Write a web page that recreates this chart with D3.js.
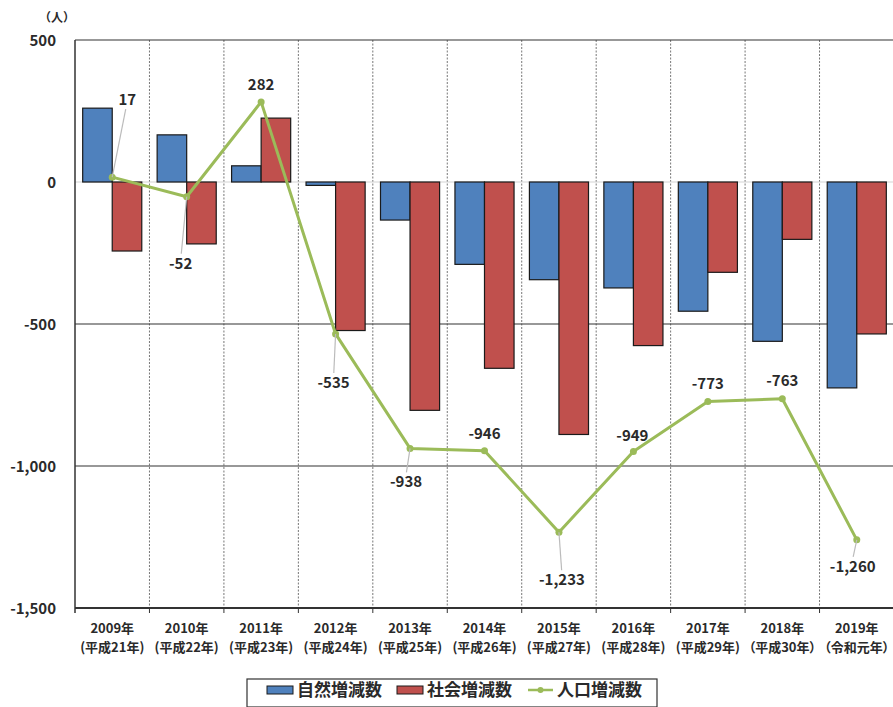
<!DOCTYPE html>
<html>
<head>
<meta charset="utf-8">
<script src="https://cdn.jsdelivr.net/npm/d3@7"></script>
<style>
  body { margin: 0; background: #fff; }
  text { font-family: "Noto Sans CJK JP", "Noto Sans", sans-serif; fill: #2a2a2a; }
</style>
</head>
<body>
<script>
var years = ["2009年", "2010年", "2011年", "2012年", "2013年", "2014年", "2015年", "2016年", "2017年", "2018年", "2019年"];
var eras = ["(平成21年)", "(平成22年)", "(平成23年)", "(平成24年)", "(平成25年)", "(平成26年)", "(平成27年)", "(平成28年)", "(平成29年)", "（平成30年）", "（令和元年）"];
var natural = [260, 166, 57, -12, -134, -290, -344, -373, -455, -561, -725];
var social = [-243, -218, 225, -523, -804, -656, -889, -576, -318, -202, -535];
var population = [17, -52, 282, -535, -938, -946, -1233, -949, -773, -763, -1260];
var yTicks = [500, 0, -500, -1000, -1500];
var seriesNames = ["自然増減数", "社会増減数", "人口増減数"];

// label placement (pixel offsets of the baseline from the point), leader line yes/no
var labelPos = [
    {dx: 15, dy: -72, lead: true},
    {dx: -6, dy: 72, lead: true},
    {dx: 0, dy: -12, lead: false},
    {dx: -2, dy: 54, lead: true},
    {dx: -4, dy: 39, lead: true},
    {dx: 0, dy: -12, lead: false},
    {dx: 3, dy: 53, lead: true},
    {dx: -1, dy: -11, lead: false},
    {dx: 0, dy: -13, lead: false},
    {dx: 0, dy: -13, lead: false},
    {dx: -4, dy: 32, lead: true}
];

var colors = {nat: "#4f81bd", soc: "#c0504d", pop: "#9bbb59"};

var W = 893, H = 707;
var mLeft = 75, mRight = 894, mTop = 40, mBottom = 608;

var fmt = function (v) { return d3.format(",")(v).replace("−", "-"); };

var svg = d3.select("body").append("svg")
    .attr("width", W)
    .attr("height", H);

var x = d3.scaleBand().domain(years).range([mLeft, mRight]).padding(0);
var x1 = d3.scaleBand().domain(["nat", "soc"]).range([0, x.bandwidth()]).paddingInner(0).paddingOuter(0.26);
var y = d3.scaleLinear().domain([-1500, 500]).range([mBottom, mTop]);

// vertical dotted separators
svg.append("g")
    .selectAll("line")
    .data(years.slice(1))
    .enter()
        .append("line")
        .attr("x1", function (d) { return x(d); })
        .attr("x2", function (d) { return x(d); })
        .attr("y1", mTop)
        .attr("y2", mBottom)
        .attr("stroke", "#777")
        .attr("stroke-width", 1)
        .style("stroke-dasharray", "2,1.5");

// horizontal gridlines
svg.append("g")
    .selectAll("line")
    .data(yTicks)
    .enter()
        .append("line")
        .attr("x1", mLeft)
        .attr("x2", mRight)
        .attr("y1", function (d) { return y(d); })
        .attr("y2", function (d) { return y(d); })
        .attr("stroke", function (d) { return d === 0 ? "#d4d4d4" : "#333"; })
        .attr("stroke-width", function (d) { return d === -1500 ? 2 : 1.2; });

// left axis line
svg.append("line")
    .attr("x1", mLeft).attr("x2", mLeft)
    .attr("y1", mTop).attr("y2", mBottom + 5)
    .attr("stroke", "#333").attr("stroke-width", 1.5);

// bottom ticks
svg.append("g")
    .selectAll("line")
    .data(years.slice(1))
    .enter()
        .append("line")
        .attr("x1", function (d) { return x(d); })
        .attr("x2", function (d) { return x(d); })
        .attr("y1", mBottom)
        .attr("y2", mBottom + 5)
        .attr("stroke", "#333");

// y tick labels
svg.append("g")
    .selectAll("text")
    .data(yTicks)
    .enter()
        .append("text")
        .attr("x", 56)
        .attr("y", function (d) { return y(d) + 5.5; })
        .attr("text-anchor", "end")
        .style("font-size", "15px")
        .style("font-weight", "bold")
        .text(fmt);

svg.append("text")
    .attr("x", 57).attr("y", 22)
    .attr("text-anchor", "middle")
    .style("font-size", "12px")
    .style("font-weight", "bold")
    .text("（人）");

// bars
var bars = [];
years.forEach(function (yr, i) {
    bars.push({yr: yr, k: "nat", v: natural[i]});
    bars.push({yr: yr, k: "soc", v: social[i]});
});

svg.append("g")
    .selectAll("rect")
    .data(bars)
    .enter()
        .append("rect")
        .attr("x", function (d) { return x(d.yr) + x1(d.k); })
        .attr("width", x1.bandwidth())
        .attr("y", function (d) { return y(Math.max(0, d.v)); })
        .attr("height", function (d) { return Math.abs(y(d.v) - y(0)); })
        .attr("fill", function (d) { return colors[d.k]; })
        .attr("stroke", "#1a1a1a")
        .attr("stroke-width", 1.2);

// population line
var cx = function (i) { return x(years[i]) + x.bandwidth() / 2; };
var line = d3.line()
    .x(function (d, i) { return cx(i); })
    .y(function (d) { return y(d); });

svg.append("path")
    .attr("d", line(population))
    .attr("fill", "none")
    .attr("stroke", colors.pop)
    .attr("stroke-width", 3)
    .attr("stroke-linejoin", "round");

svg.append("g")
    .selectAll("circle")
    .data(population)
    .enter()
        .append("circle")
        .attr("cx", function (d, i) { return cx(i); })
        .attr("cy", function (d) { return y(d); })
        .attr("r", 3.5)
        .attr("fill", colors.pop);

// leader lines
var leads = population.map(function (v, i) { return {v: v, i: i}; })
    .filter(function (d) { return labelPos[d.i].lead; });
svg.append("g")
    .selectAll("line")
    .data(leads)
    .enter()
        .append("line")
        .attr("x1", function (d) { return cx(d.i); })
        .attr("y1", function (d) { return y(d.v); })
        .attr("x2", function (d) { return cx(d.i) + labelPos[d.i].dx * 0.9; })
        .attr("y2", function (d) { var p = labelPos[d.i]; return y(d.v) + (p.dy > 0 ? p.dy - 15 : p.dy + 4); })
        .attr("stroke", "#bbb")
        .attr("stroke-width", 1.2);

// data labels
svg.append("g")
    .selectAll("text")
    .data(population)
    .enter()
        .append("text")
        .attr("x", function (d, i) { return cx(i) + labelPos[i].dx; })
        .attr("y", function (d, i) { return y(d) + labelPos[i].dy; })
        .attr("text-anchor", "middle")
        .style("font-size", "15px")
        .style("font-weight", "bold")
        .text(fmt);

// x labels
var xl = svg.append("g")
    .selectAll("text")
    .data(years)
    .enter()
        .append("text")
        .attr("text-anchor", "middle")
        .style("font-size", "13px")
        .style("font-weight", "bold")
        .style("font-feature-settings", "\"palt\"");
xl.append("tspan")
    .attr("x", function (d) { return x(d) + x.bandwidth() / 2; })
    .attr("y", 633)
    .text(function (d) { return d; });
xl.append("tspan")
    .attr("x", function (d) { return x(d) + x.bandwidth() / 2; })
    .attr("y", 652)
    .text(function (d, i) { return eras[i]; });

// legend
var lg = svg.append("g").attr("transform", "translate(247, 679)");
lg.append("rect")
    .attr("x", 0).attr("y", 0)
    .attr("width", 410).attr("height", 28)
    .attr("fill", "#fff")
    .attr("stroke", "#333")
    .attr("stroke-width", 1.2);

var legendItems = [
    {t: seriesNames[0], c: colors.nat, type: "bar", x: 20},
    {t: seriesNames[1], c: colors.soc, type: "bar", x: 150},
    {t: seriesNames[2], c: colors.pop, type: "line", x: 281}
];
legendItems.forEach(function (d) {
    if (d.type === "bar") {
        lg.append("rect")
            .attr("x", d.x).attr("y", 7)
            .attr("width", 26).attr("height", 8)
            .attr("fill", d.c)
            .attr("stroke", "#1a1a1a");
        lg.append("text")
            .attr("x", d.x + 30).attr("y", 17)
            .style("font-size", "17px")
            .style("font-weight", "bold")
            .text(d.t);
    } else {
        lg.append("line")
            .attr("x1", d.x).attr("x2", d.x + 25)
            .attr("y1", 11).attr("y2", 11)
            .attr("stroke", d.c).attr("stroke-width", 2.5);
        lg.append("circle")
            .attr("cx", d.x + 12.5).attr("cy", 11).attr("r", 3)
            .attr("fill", d.c);
        lg.append("text")
            .attr("x", d.x + 29).attr("y", 17)
            .style("font-size", "17px")
            .style("font-weight", "bold")
            .text(d.t);
    }
});
</script>
</body>
</html>
